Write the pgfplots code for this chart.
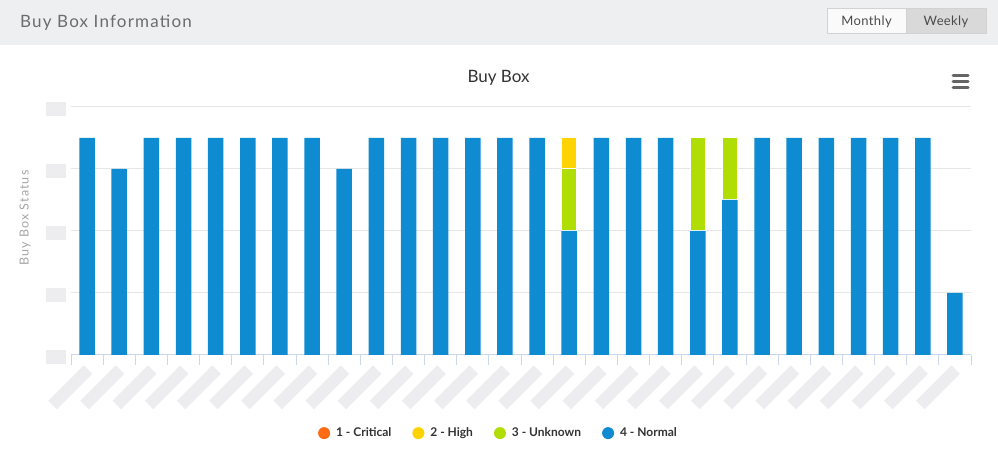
\documentclass[border=0pt]{standalone}
\usepackage{fontspec}
\setmainfont{Lato}
\usepackage{pgfplots}
\usepackage{pgfplotstable}
\pgfplotsset{compat=1.18}
\definecolor{cBlue}{HTML}{0F8CD1}
\definecolor{cGreen}{HTML}{B0DE04}
\definecolor{cYellow}{HTML}{FFD300}
\definecolor{cOrange}{HTML}{FF6B12}
\definecolor{phgray}{HTML}{EDEDEF}
\definecolor{headgray}{HTML}{EEEFF1}
\definecolor{axisblue}{HTML}{CCD6EB}
\definecolor{gridgray}{HTML}{E6E6E6}
\definecolor{headtext}{HTML}{6C6C6C}
\definecolor{btnborder}{HTML}{D2D2D2}
\definecolor{btnsel}{HTML}{D9D9D9}
\definecolor{btnwhite}{HTML}{FAFAFA}
\definecolor{btntext}{HTML}{4A4A4A}
\definecolor{titletext}{HTML}{333333}
\definecolor{ylabtext}{HTML}{A6A6A6}
\definecolor{menugray}{HTML}{666666}
\pgfplotsset{circle legend/.style={legend image code/.code={\fill[##1,draw=none] (6pt,0pt) circle (6pt);}}}

\pgfplotstableread{
x normal unknown high
0.5 3.5 0 0
1.5 3 0 0
2.5 3.5 0 0
3.5 3.5 0 0
4.5 3.5 0 0
5.5 3.5 0 0
6.5 3.5 0 0
7.5 3.5 0 0
8.5 3 0 0
9.5 3.5 0 0
10.5 3.5 0 0
11.5 3.5 0 0
12.5 3.5 0 0
13.5 3.5 0 0
14.5 3.5 0 0
15.5 2 1 0.5
16.5 3.5 0 0
17.5 3.5 0 0
18.5 3.5 0 0
19.5 2 1.5 0
20.5 2.5 1 0
21.5 3.5 0 0
22.5 3.5 0 0
23.5 3.5 0 0
24.5 3.5 0 0
25.5 3.5 0 0
26.5 3.5 0 0
27.5 1 0 0
}\buyboxdata

\begin{document}
\begin{tikzpicture}[x=1pt,y=1pt]
\path[use as bounding box] (0,0) rectangle (998,455);
\fill[white] (0,0) rectangle (998,455);
\fill[headgray] (0,409.5) rectangle (998,455);
\node[anchor=west, text=headtext, inner sep=0pt, font=\fontsize{17}{20}\selectfont\addfontfeatures{LetterSpace=7}] at (20,432.5) {Buy Box Information};
% buttons
\filldraw[fill=btnwhite, draw=btnborder, line width=1pt] (827,421) rectangle (906,446);
\filldraw[fill=btnsel, draw=btnborder, line width=1pt] (906,421) rectangle (986,446);
\node[text=btntext, font=\fontsize{13}{15}\selectfont\addfontfeatures{LetterSpace=3}] at (866.5,433.5) {Monthly};
\node[text=btntext, font=\fontsize{13}{15}\selectfont\addfontfeatures{LetterSpace=3}] at (946,433.5) {Weekly};
% title
\node[text=titletext, font=\fontsize{17}{20}\selectfont] at (498.5,377) {Buy Box};
% menu icon
\draw[menugray, line width=3pt, line cap=round] (953,379) -- (968,379) (953,373) -- (968,373) (953,367) -- (968,367);

\begin{axis}[
  at={(71pt,100pt)}, anchor=south west,
  scale only axis, width=900pt, height=248pt,
  xmin=0, xmax=28, ymin=0, ymax=4,
  ybar stacked, bar width=15.5pt,
  axis lines=left,
  x axis line style={-, draw=axisblue, line width=1pt},
  y axis line style={draw=none},
  ymajorgrids, grid style={draw=gridgray, line width=1pt},
  ytick={0,1,2,3,4},
  ytick style={draw=none},
  yticklabel={\textcolor{phgray}{\rule{20pt}{14pt}}},
  yticklabel style={anchor=east, inner sep=0pt, xshift=-5pt, yshift=-2pt},
  xtick={0.5,1.5,...,27.5},
  minor xtick={0,1,...,28},
  major tick length=0pt,
  minor tick length=10pt,
  tick align=outside,
  minor x tick style={draw=axisblue, line width=1pt},
  major x tick style={draw=none},
  xticklabel={\textcolor{phgray}{\rule{50pt}{12pt}}},
  xticklabel style={yshift=-14.5pt, xshift=1pt, rotate=45, anchor=east, inner sep=0pt},
  ylabel={Buy Box Status},
  ylabel style={at={(axis description cs:-0.051,0.552)}, anchor=center, text=ylabtext, font=\fontsize{12.5}{14}\selectfont\addfontfeatures{LetterSpace=9}},
  legend columns=4,
  reverse legend,
  legend style={at={(axis description cs:0.475,-0.315)}, anchor=center, draw=none, fill=none,
    font=\bfseries\fontsize{12}{14}\selectfont, text=titletext,
    /tikz/every odd column/.append style={column sep=4pt},
    /tikz/every even column/.append style={column sep=19pt}},
]
\addplot[fill=cBlue, draw=none, circle legend] table[x=x, y=normal] {\buyboxdata};
\addlegendentry{4 - Normal}
\addplot[fill=cGreen, draw=white, line width=1pt, circle legend] table[x=x, y=unknown] {\buyboxdata};
\addlegendentry{3 - Unknown}
\addplot[fill=cYellow, draw=white, line width=1pt, circle legend] table[x=x, y=high] {\buyboxdata};
\addlegendentry{2 - High}
\addlegendimage{fill=cOrange, circle legend}
\addlegendentry{1 - Critical}
\end{axis}
\end{tikzpicture}
\end{document}
